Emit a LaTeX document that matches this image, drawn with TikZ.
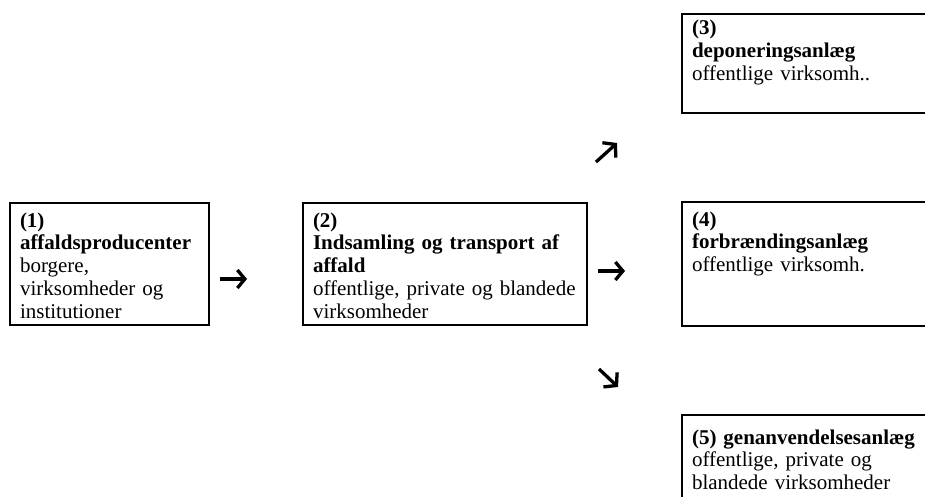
\documentclass[tikz,border=0pt]{standalone}
\usepackage{fontspec}
\setmainfont{Liberation Serif}
\usepackage{tikz}
\usetikzlibrary{arrows.meta}
\tikzstyle{box} = [rectangle, draw=black, line width=1.5pt, inner xsep=10pt, inner ysep=0pt, outer sep=0pt, anchor=north west, align=left, font=\fontsize{21}{22.8}\selectfont]
\tikzstyle{sign} = [line width=3.3pt, -{Straight Barb[length=7.5pt, width=18pt]}]
\tikzstyle{slant} = [line width=3.3pt, -{Straight Barb[length=8.5pt, width=20pt]}]

\begin{document}
\begin{tikzpicture}[x=1pt, y=-1pt]

    \useasboundingbox (0, 0) rectangle (925, 497);
    \clip (0, 0) rectangle (925, 497);

    \node (producer) [box, text width=179pt, text height=24pt, text depth=98pt] at (10, 203)
        {\textbf{(1)}\\ \textbf{affaldsproducenter}\\ borgere,\\ virksomheder og\\ institutioner};
    \node (transport) [box, text width=264pt, text height=24pt, text depth=98pt] at (303, 203)
        {\textbf{(2)}\\ \textbf{Indsamling og transport af}\\ \textbf{affald}\\ offentlige, private og blandede\\ virksomheder};
    \node (landfill) [box, text width=240pt, text height=21pt, text depth=78pt] at (682, 14)
        {\textbf{(3)}\\ \textbf{deponeringsanlæg}\\ offentlige virksomh..};
    \node (incinerator) [box, text width=240pt, text height=24pt, text depth=100pt] at (682, 202)
        {\textbf{(4)}\\ \textbf{forbrændingsanlæg}\\ offentlige virksomh.};
    \node (recycling) [box, text width=240pt, text height=29pt, text depth=80pt] at (682, 415)
        {\textbf{(5) genanvendelsesanlæg}\\ offentlige, private og\\ blandede virksomheder};

    % arrow signs between the boxes
    \coordinate (to2a) at (220, 279);
    \coordinate (to2b) at (247, 279);
    \coordinate (to4a) at (598, 271);
    \coordinate (to4b) at (625, 271);
    \coordinate (to3a) at (596, 162);
    \coordinate (to3b) at (617, 143);
    \coordinate (to5a) at (599, 369);
    \coordinate (to5b) at (618, 387);

    \draw [sign] (to2a) -- (to2b);
    \draw [sign] (to4a) -- (to4b);
    \draw [slant] (to3a) -- (to3b);
    \draw [slant] (to5a) -- (to5b);

\end{tikzpicture}
\end{document}
